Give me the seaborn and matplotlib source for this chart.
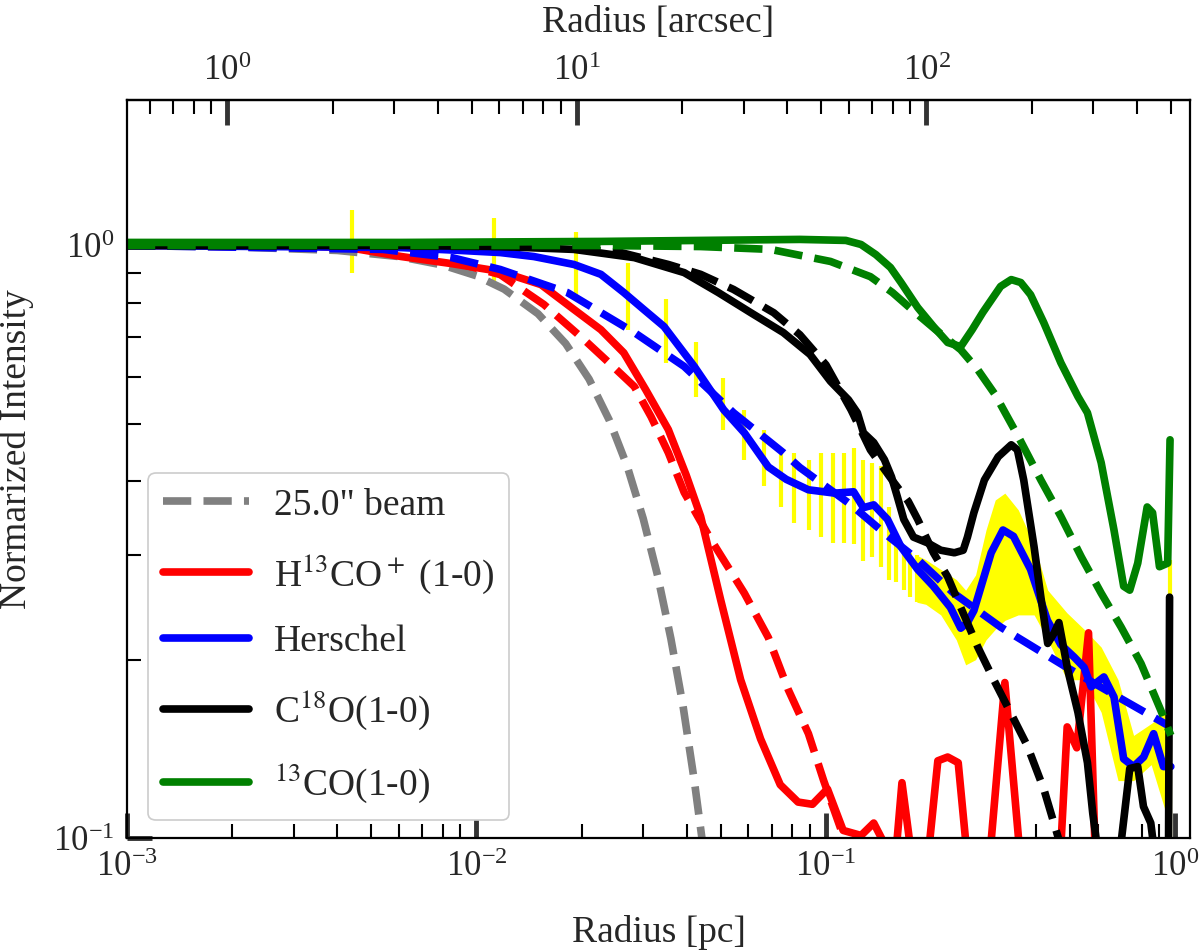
import numpy as np
import matplotlib
matplotlib.use("Agg")
import matplotlib.pyplot as plt
import seaborn as sns
from matplotlib.lines import Line2D
from matplotlib.ticker import NullFormatter, FixedLocator

# ---------------- data (radius in pc, normalized intensity) ----------------
DIST_PC = 400.0  # distance used for the arcsec axis

beam_r = [0.001, 0.002, 0.004, 0.006, 0.008, 0.010, 0.012, 0.015, 0.018, 0.021,
          0.024, 0.027, 0.030, 0.033, 0.036, 0.039, 0.042, 0.045]
beam_v = [0.999, 0.995, 0.981, 0.958, 0.927, 0.889, 0.844, 0.767, 0.683, 0.595,
          0.507, 0.424, 0.346, 0.277, 0.217, 0.167, 0.125, 0.092]

h13co_r = [0.001, 0.00315, 0.0044, 0.0061, 0.0085, 0.0117, 0.0153, 0.0190, 0.0227, 0.0264,
           0.0305, 0.0354, 0.0398, 0.0438, 0.050, 0.057, 0.065, 0.074, 0.0832, 0.0915,
           0.101, 0.112, 0.126, 0.137, 0.148, 0.157, 0.165, 0.178, 0.193, 0.209,
           0.223, 0.239, 0.254, 0.275, 0.297, 0.325, 0.360, 0.410, 0.471, 0.490,
           0.522, 0.564, 0.590, 0.70, 1.0]
h13co_v = [1.0, 1.0, 0.99, 0.958, 0.932, 0.904, 0.859, 0.780, 0.721, 0.659,
           0.571, 0.489, 0.410, 0.349, 0.252, 0.185, 0.147, 0.123, 0.115, 0.114,
           0.121, 0.103, 0.101, 0.106, 0.097, 0.088, 0.124, 0.088, 0.085, 0.135,
           0.137, 0.134, 0.092, 0.085, 0.099, 0.183, 0.092, 0.085, 0.099, 0.154,
           0.142, 0.222, 0.092, 0.085, 0.085]

h13co_mod_r = [0.001, 0.0044, 0.0085, 0.0117, 0.0156, 0.0203, 0.0243, 0.0283, 0.0316, 0.0354,
               0.0393, 0.0470, 0.0584, 0.0684, 0.0780, 0.0891, 0.0985, 0.110, 0.126]
h13co_mod_v = [1.0, 0.992, 0.940, 0.893, 0.795, 0.694, 0.629, 0.578, 0.514, 0.447,
               0.383, 0.318, 0.259, 0.218, 0.178, 0.150, 0.125, 0.104, 0.085]

hers_r = [0.001, 0.0061, 0.0090, 0.0117, 0.0146, 0.0190, 0.0227, 0.0264, 0.0301, 0.0344,
          0.0420, 0.0510, 0.0584, 0.0684, 0.0770, 0.0891, 0.106, 0.120, 0.128, 0.137,
          0.150, 0.164, 0.183, 0.203, 0.227, 0.243, 0.254, 0.265, 0.278, 0.297,
          0.321, 0.344, 0.385, 0.430, 0.470, 0.513, 0.548, 0.574, 0.624, 0.667,
          0.711, 0.759, 0.811, 0.866, 0.924, 0.97]
hers_v = [1.0, 0.992, 0.981, 0.973, 0.958, 0.929, 0.894, 0.833, 0.780, 0.730,
          0.625, 0.528, 0.483, 0.423, 0.403, 0.387, 0.382, 0.384, 0.361, 0.365,
          0.345, 0.310, 0.284, 0.266, 0.245, 0.226, 0.231, 0.242, 0.266, 0.303,
          0.331, 0.323, 0.284, 0.233, 0.212, 0.202, 0.194, 0.180, 0.187, 0.173,
          0.136, 0.132, 0.137, 0.150, 0.132, 0.132]

hers_mod_r = [0.001, 0.0054, 0.0085, 0.0117, 0.0182, 0.0283, 0.0393, 0.0544, 0.0755, 0.0842,
              0.118, 0.147, 0.183, 0.232, 0.316, 0.489, 0.685, 0.95]
hers_mod_v = [1.0, 0.985, 0.954, 0.911, 0.833, 0.713, 0.625, 0.522, 0.447, 0.422,
              0.365, 0.327, 0.295, 0.259, 0.227, 0.194, 0.173, 0.155]

c18o_r = [0.001, 0.0061, 0.0117, 0.0190, 0.0283, 0.0393, 0.0492, 0.0610, 0.0755, 0.090,
          0.103, 0.116, 0.123, 0.128, 0.137, 0.147, 0.154, 0.160, 0.167, 0.178,
          0.195, 0.213, 0.233, 0.247, 0.254, 0.265, 0.284, 0.311, 0.339, 0.353,
          0.368, 0.394, 0.412, 0.431, 0.450, 0.464, 0.492, 0.526, 0.560, 0.580,
          0.61, 0.67, 0.70, 0.74, 0.78, 0.81, 0.85, 0.88, 0.955, 0.962]
c18o_v = [1.0, 1.0, 0.996, 0.985, 0.954, 0.900, 0.833, 0.770, 0.713, 0.655,
          0.590, 0.549, 0.522, 0.483, 0.465, 0.435, 0.407, 0.377, 0.345, 0.322,
          0.315, 0.306, 0.303, 0.306, 0.322, 0.354, 0.402, 0.440, 0.461, 0.452,
          0.402, 0.310, 0.255, 0.213, 0.222, 0.231, 0.192, 0.163, 0.134, 0.110,
          0.088, 0.088, 0.099, 0.131, 0.132, 0.113, 0.106, 0.090, 0.090, 0.255]

c18o_mod_r = [0.001, 0.0163, 0.0259, 0.0354, 0.0438, 0.0544, 0.0709, 0.0842, 0.100, 0.118,
              0.134, 0.156, 0.172, 0.183, 0.203, 0.223, 0.243, 0.272, 0.302, 0.337,
              0.377, 0.420, 0.460, 0.50]
c18o_mod_v = [1.0, 0.996, 0.973, 0.929, 0.894, 0.843, 0.770, 0.707, 0.629, 0.528,
              0.452, 0.399, 0.370, 0.345, 0.303, 0.276, 0.245, 0.210, 0.185, 0.163,
              0.143, 0.121, 0.101, 0.085]

co13_r = [0.001, 0.0061, 0.0227, 0.0438, 0.0842, 0.114, 0.126, 0.139, 0.153, 0.164,
          0.183, 0.203, 0.223, 0.243, 0.262, 0.281, 0.316, 0.339, 0.361, 0.385,
          0.420, 0.470, 0.526, 0.560, 0.613, 0.667, 0.711, 0.74, 0.78, 0.83,
          0.86, 0.90, 0.95, 0.965]
co13_v = [1.012, 1.012, 1.016, 1.02, 1.024, 1.02, 1.004, 0.965, 0.918, 0.866,
          0.786, 0.730, 0.686, 0.675, 0.721, 0.771, 0.853, 0.876, 0.866, 0.826,
          0.741, 0.634, 0.556, 0.522, 0.430, 0.331, 0.266, 0.262, 0.291, 0.362,
          0.354, 0.287, 0.291, 0.470]

co13_mod_r = [0.001, 0.0227, 0.0438, 0.0694, 0.103, 0.134, 0.155, 0.176, 0.206, 0.243,
              0.272, 0.305, 0.355, 0.412, 0.470, 0.538, 0.613, 0.699, 0.797, 0.909, 0.97]
co13_mod_v = [1.0, 1.0, 0.996, 0.985, 0.940, 0.886, 0.833, 0.780, 0.721, 0.667,
              0.617, 0.560, 0.476, 0.402, 0.349, 0.298, 0.259, 0.227, 0.197, 0.164, 0.149]

# Herschel uncertainties: individual bars, then a dense band
err_r = [0.0044, 0.0112, 0.0193, 0.0271, 0.0348, 0.0425, 0.0507, 0.0582, 0.0665, 0.0744,
         0.0809, 0.0893, 0.0970, 0.1047, 0.1125, 0.1200, 0.1280, 0.1357, 0.1435, 0.1510,
         0.1590, 0.1670, 0.1745, 0.1822, 0.965]
err_hi = [1.15, 1.115, 1.052, 0.936, 0.811, 0.686, 0.598, 0.528, 0.489, 0.447,
          0.447, 0.435, 0.447, 0.447, 0.447, 0.456, 0.435, 0.430, 0.424, 0.362,
          0.322, 0.310, 0.303, 0.300, 0.295]
err_lo = [0.900, 0.866, 0.811, 0.721, 0.634, 0.554, 0.489, 0.435, 0.392, 0.362,
          0.340, 0.331, 0.322, 0.315, 0.315, 0.313, 0.293, 0.298, 0.287, 0.273,
          0.270, 0.262, 0.255, 0.250, 0.09]
band_r = [0.182, 0.193, 0.213, 0.236, 0.251, 0.268, 0.287, 0.305, 0.325, 0.355,
          0.394, 0.431, 0.489, 0.548, 0.613, 0.685, 0.759, 0.852, 0.94]
band_hi = [0.30, 0.295, 0.284, 0.273, 0.262, 0.278, 0.331, 0.372, 0.382, 0.358,
           0.313, 0.262, 0.240, 0.225, 0.210, 0.185, 0.149, 0.156, 0.163]
band_lo = [0.25, 0.248, 0.238, 0.216, 0.196, 0.200, 0.216, 0.225, 0.233, 0.238,
           0.238, 0.216, 0.185, 0.185, 0.163, 0.125, 0.125, 0.133, 0.110]

legend_labels = ['25.0" beam', r'H$^{13}$CO$^+$ (1-0)', 'Herschel',
                 r'C$^{18}$O(1-0)', r'$^{13}$CO(1-0)']
top_ticks = [1, 10, 100]

# ---------------- style ----------------
sns.set_theme(style="ticks")
plt.rcParams['font.family'] = ['Liberation Serif', 'DejaVu Serif']
plt.rcParams['mathtext.fontset'] = 'stix'
plt.rcParams['axes.linewidth'] = 1.6
plt.rcParams['axes.edgecolor'] = 'black'

LW = 5.5
fig = plt.figure(figsize=(12, 9.51), dpi=100)
ax = fig.add_axes([0.1058, 0.1188, 0.8858, 0.776])
ax.set_xscale('log')
ax.set_yscale('log')

# uncertainties
ax.vlines(err_r, err_lo, err_hi, color='yellow', lw=3, zorder=1)
ax.fill_between(band_r, band_lo, band_hi, color='yellow', lw=0, zorder=1)

def line(r, v, color, ls='-'):
    sns.lineplot(x=r, y=v, ax=ax, color=color, lw=LW, linestyle=ls,
                 estimator=None, sort=False, legend=False, zorder=2)

line(beam_r, beam_v, 'gray', '--')
line(h13co_r, h13co_v, 'red')
line(h13co_mod_r, h13co_mod_v, 'red', '--')
line(hers_r, hers_v, 'blue')
line(hers_mod_r, hers_mod_v, 'blue', '--')
line(c18o_r, c18o_v, 'black')
line(c18o_mod_r, c18o_mod_v, 'black', '--')
line(co13_r, co13_v, 'green')
line(co13_mod_r, co13_mod_v, 'green', '--')

ax.set_xlim(1e-3, 1.1)
ax.set_ylim(0.1, 1.76)

TICK_MAJ = dict(which='major', direction='in', length=18, width=3.5, color='#333333',
                labelsize=25, pad=9)
TICK_MIN = dict(which='minor', direction='in', length=10, width=1.5, color='black')
ax.tick_params(top=False, right=False, **TICK_MAJ)
ax.tick_params(top=False, right=False, **TICK_MIN)
ax.xaxis.set_minor_formatter(NullFormatter())
ax.yaxis.set_minor_formatter(NullFormatter())

ax.set_xlabel('Radius [pc]', fontsize=27, labelpad=23)
ax.set_ylabel('Normarized Intensity', fontsize=27)
ax.yaxis.set_label_coords(-0.087, 0.527)

k = 206265.0 / DIST_PC
secax = ax.secondary_xaxis('top', functions=(lambda x: np.asarray(x) * k,
                                              lambda a: np.asarray(a) / k))
secax.xaxis.set_major_locator(FixedLocator(top_ticks))
secax.tick_params(**TICK_MAJ)
secax.tick_params(**TICK_MIN)
secax.xaxis.set_minor_formatter(NullFormatter())
secax.set_xlabel('Radius [arcsec]', fontsize=27, labelpad=16)

handles = [Line2D([], [], color='gray', lw=LW, ls='--'),
           Line2D([], [], color='red', lw=LW),
           Line2D([], [], color='blue', lw=LW),
           Line2D([], [], color='black', lw=LW),
           Line2D([], [], color='green', lw=LW)]
leg = ax.legend(handles, legend_labels, loc='lower left', bbox_to_anchor=(0.02, 0.024),
                borderaxespad=0, fontsize=27, handlelength=2.3, handletextpad=0.65,
                labelspacing=0.78, frameon=True, fancybox=True, framealpha=1)
leg.get_frame().set_edgecolor('#cccccc')
leg.get_frame().set_linewidth(1.2)

fig.savefig('out.png', dpi=100)
